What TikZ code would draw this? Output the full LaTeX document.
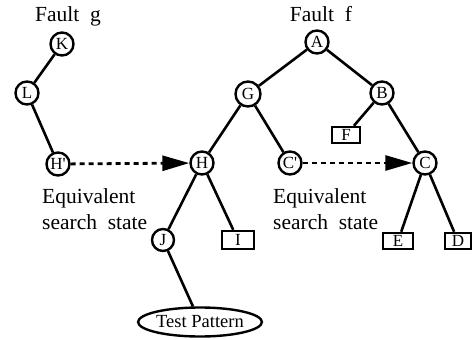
\documentclass[tikz,border=0pt]{standalone}
\usepackage{fontspec}
\setmainfont{Liberation Serif}
\usetikzlibrary{arrows.meta,shapes.geometric}
\begin{document}
\begin{tikzpicture}[x=1pt,y=-1pt,
  st/.style={circle,draw,line width=2.4pt,inner sep=0pt,minimum size=23pt,font=\fontsize{17}{17}\selectfont},
  leaf/.style={rectangle,draw,line width=2.4pt,inner sep=0pt,minimum width=28pt,minimum height=16pt,font=\fontsize{17}{17}\selectfont},
  edge/.style={line width=2.6pt},
  eq/.style={line width=2.8pt,dash pattern=on 5pt off 4pt,-{Triangle[length=27pt,width=15pt]}},
  lbl/.style={font=\fontsize{21.5}{26}\selectfont,inner sep=0pt}]
\useasboundingbox (0,0) rectangle (472,340);
% titles
\node[lbl,anchor=base] (tg) at (68,21) {Fault\ \ g};
\node[lbl,anchor=base] (tf) at (321,21) {Fault\ \ f};
% fault g tree
\node[st] (K) at (62,44) {K};
\node[st] (L) at (27,93) {L};
\node[st] (Hp) at (58,164) {H\textquotesingle};
% fault f tree
\node[st] (A) at (317,42) {A};
\node[st,minimum size=25pt] (G) at (248,94) {G};
\node[st] (B) at (382,93) {B};
\node[st] (H) at (202,163) {H};
\node[st] (Cp) at (290,163) {C\textquotesingle};
\node[st] (C) at (425,163) {C};
\node[leaf] (F) at (346,135) {F};
\node[st,minimum size=22pt] (J) at (163,240) {J};
\node[leaf,minimum width=32pt,minimum height=18pt] (I) at (238,240) {I};
\node[leaf,minimum width=30pt] (E) at (398,241) {E};
\node[leaf,minimum width=26pt] (D) at (458,241) {D};
\node[ellipse,draw,line width=2.4pt,inner sep=0pt,minimum width=110pt,minimum height=29pt,font=\fontsize{18.5}{18.5}\selectfont] (T) at (200,322) {Test Pattern};
% edges
\draw[edge] (K) -- (L);
\draw[edge] (L) -- (Hp);
\draw[edge] (A) -- (G);
\draw[edge] (A) -- (B);
\draw[edge] (G) -- (H);
\draw[edge] (G) -- (Cp);
\draw[edge] (B) -- (F);
\draw[edge] (B) -- (C);
\draw[edge] (C) -- (E);
\draw[edge] (C) -- (D);
\draw[edge] (H) -- (J);
\draw[edge] (H) -- (I);
\draw[edge] (J) -- (T);
% equivalence arrows
\draw[eq] (Hp) -- (H);
\draw[eq] (Cp) -- (C);
% labels
\node[lbl,align=left,anchor=north west] (eq1) at (42,188) {Equivalent\\search\ \ state};
\node[lbl,align=left,anchor=north west] (eq2) at (273,188) {Equivalent\\search\ \ state};
\end{tikzpicture}
\end{document}
